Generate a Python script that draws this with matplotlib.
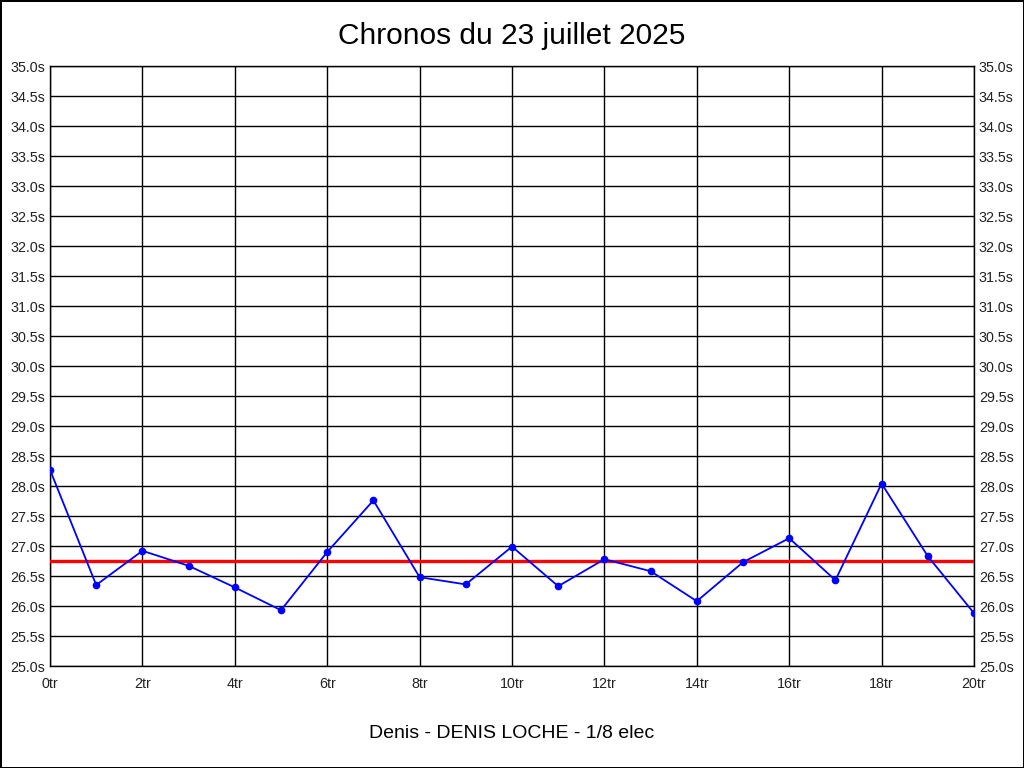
import matplotlib
matplotlib.use("Agg")
import matplotlib.pyplot as plt
from matplotlib.ticker import MultipleLocator, FuncFormatter

plt.rcParams['font.family'] = ['Liberation Sans', 'DejaVu Sans']

title = "Chronos du 23 juillet 2025"
xlabel = "Denis - DENIS LOCHE - 1/8 elec"
laps = list(range(21))
times = [28.27, 26.35, 26.92, 26.67, 26.31, 25.93, 26.90, 27.76, 26.48, 26.36,
         26.99, 26.33, 26.78, 26.58, 26.08, 26.73, 27.13, 26.43, 28.04, 26.83, 25.88]
mean_time = 26.75

fig = plt.figure(figsize=(10.24, 7.68), dpi=100)
fig.patch.set_facecolor('white')
fig.patch.set_edgecolor('black')
fig.patch.set_linewidth(2)

ax = fig.add_axes([50/1024, 102/768, 924/1024, 600/768])
ax.set_xlim(0, 20)
ax.set_ylim(25.0, 35.0)

ax.xaxis.set_major_locator(MultipleLocator(2))
ax.yaxis.set_major_locator(MultipleLocator(0.5))
ax.xaxis.set_major_formatter(FuncFormatter(lambda v, p: f"{int(round(v))}tr"))
ax.yaxis.set_major_formatter(FuncFormatter(lambda v, p: f"{v:.1f}s"))
ax.grid(True, color='black', linewidth=1.0)
ax.set_axisbelow(True)
ax.tick_params(axis='both', length=0, labelsize=10.3, colors='#222222')
ax.tick_params(axis='x', pad=8)
ax.tick_params(axis='y', labelright=True, right=True, pad=3.5)
for s in ax.spines.values():
    s.set_color('black')
    s.set_linewidth(1.0)

ax.axhline(mean_time, color='#ff0000', linewidth=2.4, zorder=3)
ax.plot(laps, times, color='#0000ff', linewidth=1.3, marker='o', markersize=4.5, zorder=4)

fig.text(0.5, 1 - 36/768, title, ha='center', va='center', fontsize=21.5)
fig.text(0.5, 1 - 733/768, xlabel, ha='center', va='center', fontsize=14)

fig.savefig("out.png", dpi=100)
